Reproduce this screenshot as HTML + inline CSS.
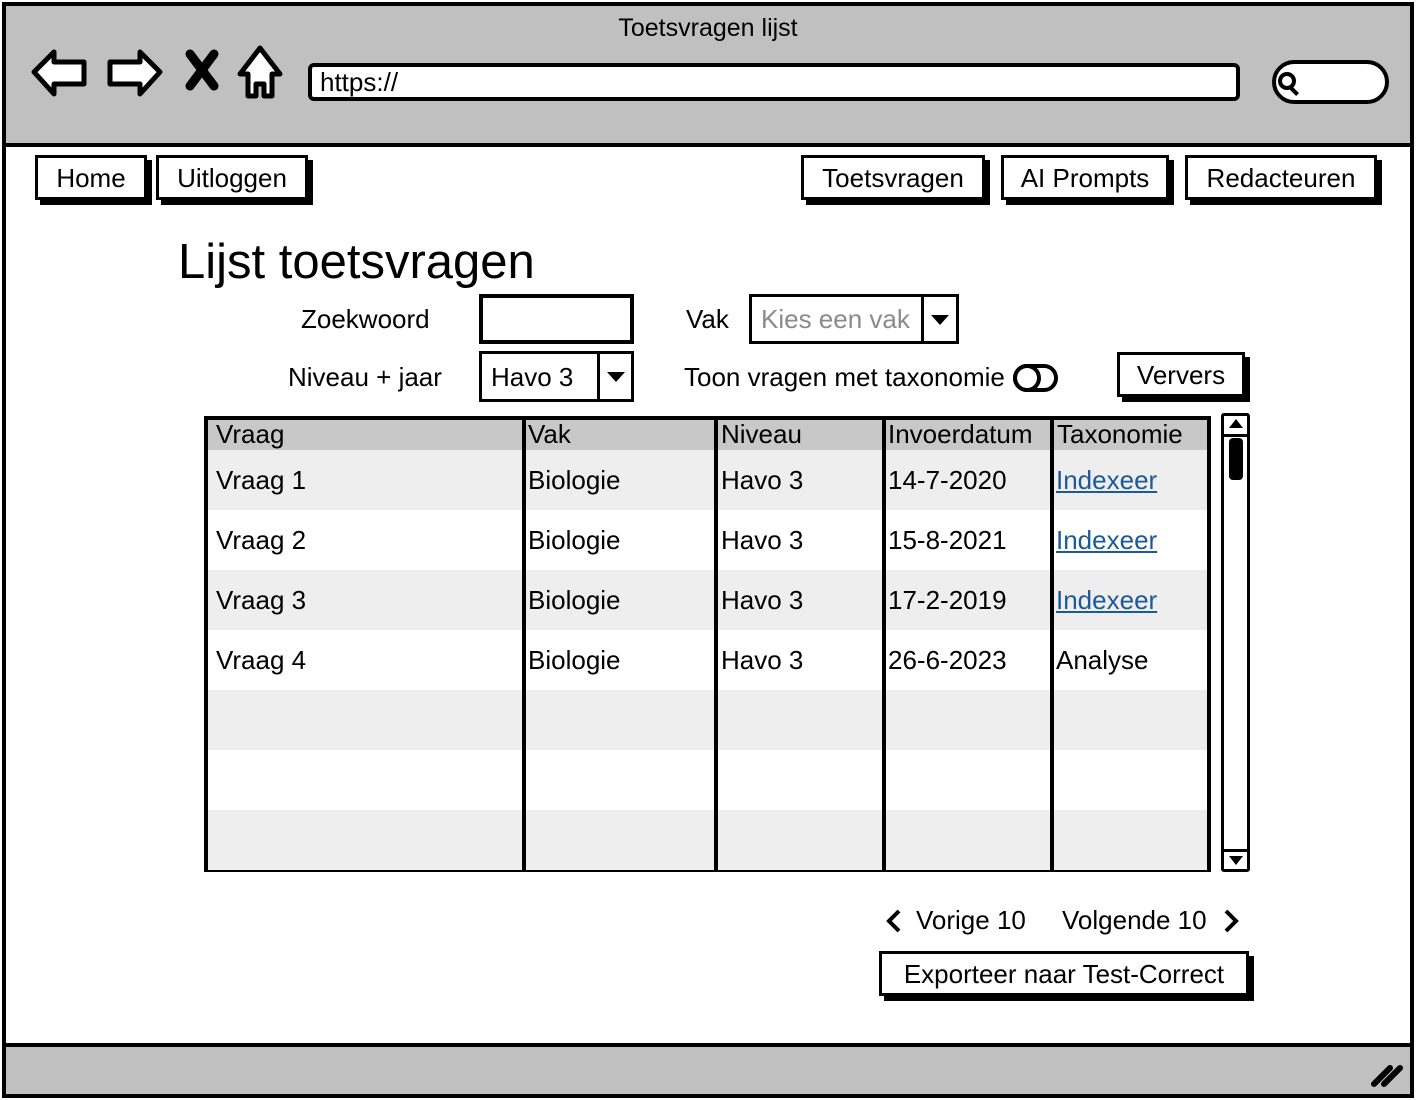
<!DOCTYPE html>
<html><head><meta charset="utf-8"><style>
*{box-sizing:border-box;margin:0;padding:0}
body{width:1416px;height:1100px;position:relative;background:#fff;font-family:"Liberation Sans",sans-serif;color:#000;overflow:hidden}
.a{position:absolute}
.t{position:absolute;font-size:26px;line-height:28px;white-space:nowrap}
.btn{position:absolute;border:3px solid #000;background:#fff;box-shadow:5px 5px 0 #000;font-size:26px;text-align:center;line-height:40px}
.row{position:absolute;left:208px;width:999px;height:60px}
.cell{position:absolute;font-size:26px;white-space:nowrap}
.lnk{color:#1a5a9a;text-decoration:underline}
.vl{position:absolute;top:418px;width:4px;height:454px;background:#000}
</style></head><body>
<div class="a" style="left:2px;top:2px;width:1412px;height:145px;background:#c0c0c0;border:4px solid #000"></div>
<div class="t" style="left:0;width:1416px;text-align:center;top:14px;font-size:25px">Toetsvragen lijst</div>
<svg class="a" style="left:28px;top:44px" width="260" height="60">
<path d="M6 28 L26 8 L26 18 L56 18 L56 40 L26 40 L26 50 Z" fill="#fff" stroke="#000" stroke-width="5" stroke-linejoin="round"/>
<path d="M132 28 L112 8 L112 18 L82 18 L82 40 L112 40 L112 50 Z" fill="#fff" stroke="#000" stroke-width="5" stroke-linejoin="round"/>
<path d="M162 10 L186 42 M186 10 L162 42" stroke="#000" stroke-width="9" stroke-linecap="round"/>
<path d="M232 4 L252 30 L244 30 L244 52 L236 52 L236 40 L228 40 L228 52 L220 52 L220 30 L212 30 Z" fill="#fff" stroke="#000" stroke-width="5" stroke-linejoin="round"/>
</svg>
<div class="a" style="left:308px;top:63px;width:932px;height:38px;background:#fff;border:4px solid #000;border-radius:6px"></div>
<div class="t" style="left:320px;top:68px">https://</div>
<div class="a" style="left:1272px;top:60px;width:117px;height:44px;background:#fff;border:4px solid #000;border-radius:24px"></div>
<div class="a" style="left:1278px;top:72px;width:18px;height:18px;border:4px solid #000;border-radius:50%"></div>
<div class="a" style="left:1292px;top:86px;width:4px;height:10px;background:#000;transform:rotate(-45deg)"></div>
<div class="a" style="left:2px;top:2px;width:1412px;height:1096px;border:4px solid #000"></div>
<div class="a" style="left:2px;top:1043px;width:1412px;height:55px;background:#c0c0c0;border:4px solid #000"></div>
<svg class="a" style="left:1368px;top:1058px" width="40" height="30"><path d="M6 26 L22 10 M16 26 L32 10" stroke="#000" stroke-width="6" stroke-linecap="round"/></svg>
<div class="btn" style="left:35px;top:155px;width:112px;height:45px">Home</div>
<div class="btn" style="left:156px;top:155px;width:152px;height:45px">Uitloggen</div>
<div class="btn" style="left:801px;top:155px;width:184px;height:45px">Toetsvragen</div>
<div class="btn" style="left:1001px;top:155px;width:168px;height:45px">AI Prompts</div>
<div class="btn" style="left:1185px;top:155px;width:192px;height:45px">Redacteuren</div>
<div class="t" style="left:178px;top:236px;font-size:49px;line-height:52px">Lijst toetsvragen</div>
<div class="t" style="left:301px;top:305px">Zoekwoord</div>
<div class="a" style="left:479px;top:294px;width:155px;height:50px;border:4px solid #000"></div>
<div class="t" style="left:686px;top:305px">Vak</div>
<div class="a" style="left:749px;top:294px;width:210px;height:50px;border:3px solid #000"></div>
<div class="t" style="left:761px;top:305px;color:#8a8a8f">Kies een vak</div>
<div class="a" style="left:921px;top:294px;width:3px;height:50px;background:#000"></div>
<div class="a" style="left:931px;top:315px;border-left:9px solid transparent;border-right:9px solid transparent;border-top:10px solid #000"></div>
<div class="t" style="left:288px;top:363px">Niveau + jaar</div>
<div class="a" style="left:479px;top:351px;width:155px;height:51px;border:3px solid #000"></div>
<div class="t" style="left:491px;top:363px">Havo 3</div>
<div class="a" style="left:597px;top:351px;width:3px;height:51px;background:#000"></div>
<div class="a" style="left:607px;top:372px;border-left:9px solid transparent;border-right:9px solid transparent;border-top:10px solid #000"></div>
<div class="t" style="left:684px;top:363px">Toon vragen met taxonomie</div>
<div class="a" style="left:1013px;top:364px;width:45px;height:28px;border:4px solid #000;border-radius:14px"></div>
<div class="a" style="left:1013px;top:364px;width:28px;height:28px;border:4px solid #000;border-radius:50%"></div>
<div class="btn" style="left:1117px;top:352px;width:128px;height:45px">Ververs</div>
<div class="a" style="left:204px;top:416px;width:1007px;height:456px;border:4px solid #000;background:#fff"></div>
<div class="row" style="top:420px;height:30px;background:#c8c8c8"></div>
<div class="row" style="top:450px;background:#eeeeee"></div>
<div class="row" style="top:570px;background:#eeeeee"></div>
<div class="row" style="top:690px;background:#eeeeee"></div>
<div class="row" style="top:810px;background:#eeeeee"></div>
<div class="vl" style="left:522px"></div>
<div class="vl" style="left:714px"></div>
<div class="vl" style="left:882px"></div>
<div class="vl" style="left:1050px"></div>
<div class="cell" style="left:216px;top:419px">Vraag</div>
<div class="cell" style="left:528px;top:419px">Vak</div>
<div class="cell" style="left:721px;top:419px">Niveau</div>
<div class="cell" style="left:888px;top:419px">Invoerdatum</div>
<div class="cell" style="left:1057px;top:419px">Taxonomie</div>
<div class="cell" style="left:216px;top:465px">Vraag 1</div><div class="cell" style="left:528px;top:465px">Biologie</div><div class="cell" style="left:721px;top:465px">Havo 3</div><div class="cell" style="left:888px;top:465px">14-7-2020</div><div class="cell lnk" style="left:1056px;top:465px">Indexeer</div>
<div class="cell" style="left:216px;top:525px">Vraag 2</div><div class="cell" style="left:528px;top:525px">Biologie</div><div class="cell" style="left:721px;top:525px">Havo 3</div><div class="cell" style="left:888px;top:525px">15-8-2021</div><div class="cell lnk" style="left:1056px;top:525px">Indexeer</div>
<div class="cell" style="left:216px;top:585px">Vraag 3</div><div class="cell" style="left:528px;top:585px">Biologie</div><div class="cell" style="left:721px;top:585px">Havo 3</div><div class="cell" style="left:888px;top:585px">17-2-2019</div><div class="cell lnk" style="left:1056px;top:585px">Indexeer</div>
<div class="cell" style="left:216px;top:645px">Vraag 4</div><div class="cell" style="left:528px;top:645px">Biologie</div><div class="cell" style="left:721px;top:645px">Havo 3</div><div class="cell" style="left:888px;top:645px">26-6-2023</div><div class="cell" style="left:1056px;top:645px">Analyse</div>
<div class="a" style="left:1221px;top:413px;width:29px;height:459px;border:3px solid #000;border-radius:3px;background:#fff"></div>
<div class="a" style="left:1221px;top:434px;width:29px;height:3px;background:#000"></div>
<div class="a" style="left:1221px;top:849px;width:29px;height:3px;background:#000"></div>
<div class="a" style="left:1229px;top:419px;border-left:7px solid transparent;border-right:7px solid transparent;border-bottom:9px solid #000"></div>
<div class="a" style="left:1229px;top:856px;border-left:7px solid transparent;border-right:7px solid transparent;border-top:9px solid #000"></div>
<div class="a" style="left:1229px;top:438px;width:14px;height:42px;background:#000;border-radius:4px"></div>
<svg class="a" style="left:884px;top:908px" width="20" height="26"><path d="M15 3 L5 13 L15 23" fill="none" stroke="#000" stroke-width="4"/></svg>
<div class="t" style="left:916px;top:906px">Vorige 10</div>
<div class="t" style="left:1062px;top:906px">Volgende 10</div>
<svg class="a" style="left:1221px;top:908px" width="20" height="26"><path d="M5 3 L15 13 L5 23" fill="none" stroke="#000" stroke-width="4"/></svg>
<div class="btn" style="left:879px;top:951px;width:370px;height:45px">Exporteer naar Test-Correct</div>
</body></html>
